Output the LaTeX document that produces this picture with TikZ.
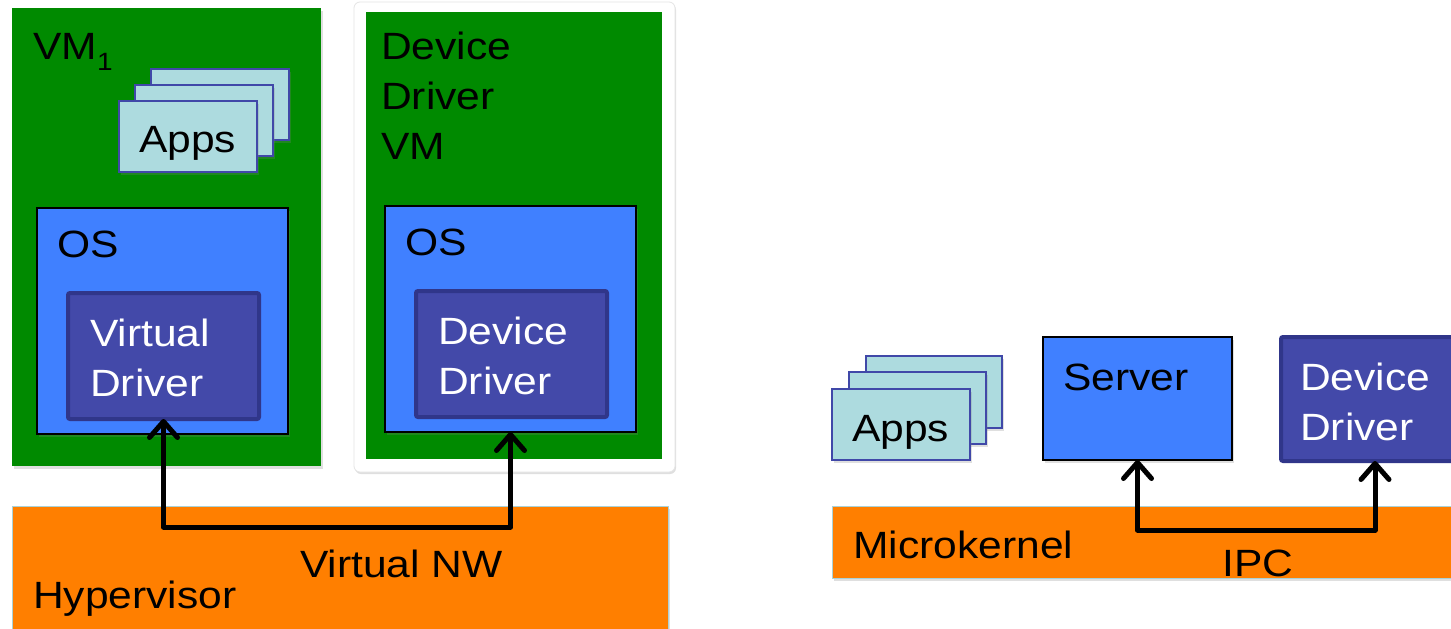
\documentclass[tikz,border=0pt]{standalone}
\usepackage{fontspec}
\setmainfont{Liberation Sans}[FakeStretch=1.12]
\usetikzlibrary{arrows.meta,shadows}

\definecolor{vmgreen}{RGB}{0,138,0}
\definecolor{osblue}{RGB}{64,128,255}
\definecolor{drvblue}{RGB}{67,73,169}
\definecolor{drvedge}{RGB}{48,54,138}
\definecolor{appcyan}{RGB}{173,219,223}
\definecolor{appedge}{RGB}{64,72,168}
\definecolor{layerorange}{RGB}{255,127,0}
\definecolor{layeredge}{RGB}{170,210,215}

\tikzset{
  box/.style={rectangle, anchor=north west, inner sep=0pt, outer sep=0pt},
  shade box/.style={drop shadow={shadow xshift=2pt, shadow yshift=-3pt, opacity=0.25}},
  vmbox/.style={box, fill=vmgreen, shade box},
  frame/.style={box, fill=white, draw=black!10, line width=0.8pt, rounded corners=6pt,
    drop shadow={shadow xshift=1pt, shadow yshift=-2pt, opacity=0.25}},
  osbox/.style={box, fill=osblue, draw=black, line width=1.5pt, shade box},
  drvbox/.style={box, fill=drvblue, draw=drvedge, line width=4pt, rounded corners=2pt},
  appcard/.style={box, fill=appcyan, draw=appedge, line width=2pt, shade box,
    minimum width=138pt, minimum height=71pt},
  layer/.style={box, fill=layerorange, draw=layeredge, line width=1pt, shade box},
  % multi-line labels are placed by the baseline of their last line
  lbl/.style={anchor=base west, inner sep=0pt, align=left,
    font=\fontsize{38pt}{50pt}\selectfont},
  conn/.style={line width=5pt, line join=round, line cap=round,
    {Straight Barb[length=16pt,width=28pt,round]}-{Straight Barb[length=16pt,width=28pt,round]}},
}

\begin{document}
\begin{tikzpicture}[x=1pt,y=-1pt]
  \clip (0,0) rectangle (1451,629);
  \fill[white] (0,0) rectangle (1451,629);

  % ---------------- hypervisor side ----------------
  \node[layer, minimum width=656pt, minimum height=130pt] (hv) at (12,506) {};

  \node[vmbox, minimum width=309pt, minimum height=458pt] (vm1) at (12,8) {};
  \node[frame, minimum width=321pt, minimum height=470pt] (ddframe) at (354,2) {};
  \node[box, fill=vmgreen, minimum width=296pt, minimum height=447pt] (ddvm) at (366,12) {};

  \node[appcard] (appA3) at (151,69) {};
  \node[appcard] (appA2) at (135,85) {};
  \node[appcard] (appA1) at (119,101) {};

  \node[osbox, minimum width=251pt, minimum height=226pt] (osl) at (37,208) {};
  \node[drvbox, minimum width=191pt, minimum height=126pt] (vd) at (68,293) {};
  \node[osbox, minimum width=251pt, minimum height=226pt] (osr) at (385,206) {};
  \node[drvbox, minimum width=191pt, minimum height=126pt] (dd) at (416,291) {};

  \node[lbl] (vm1lbl) at (33,59) {VM\raisebox{-11pt}{\fontsize{25pt}{25pt}\selectfont 1}};
  \node[lbl] (ddvmlbl) at (381,159) {Device\\Driver\\VM};
  \node[lbl] (appAlbl) at (139,152) {Apps};
  \node[lbl] (osllbl) at (57,257) {OS};
  \node[lbl] (osrlbl) at (405,255) {OS};
  \node[lbl, text=white] (vdlbl) at (90,396) {Virtual\\Driver};
  \node[lbl, text=white] (ddlbl) at (438,394) {Device\\Driver};
  \node[lbl] (hvlbl) at (33,608) {Hypervisor};
  \node[lbl] (vnwlbl) at (300,577) {Virtual NW};

  \coordinate (vnw) at (300,527);
  \draw[conn] (vd.south) |- (vnw) -| (osr.south);

  % ---------------- microkernel side ----------------
  \node[layer, minimum width=640pt, minimum height=72pt] (mk) at (832,506) {};

  \node[appcard, minimum width=136pt, minimum height=72pt] (appB3) at (866,356) {};
  \node[appcard, minimum width=137pt, minimum height=72pt] (appB2) at (849,372) {};
  \node[appcard] (appB1) at (832,389) {};

  \node[osbox, minimum width=189pt, minimum height=123pt] (srv) at (1043,337) {};
  \node[drvbox, minimum width=188pt, minimum height=124pt] (mdd) at (1281,337) {};

  \node[lbl] (appBlbl) at (852,441) {Apps};
  \node[lbl] (srvlbl) at (1063,390) {Server};
  \node[lbl, text=white] (mddlbl) at (1300,440) {Device\\Driver};
  \node[lbl] (mklbl) at (853,558) {Microkernel};
  \node[lbl] (ipclbl) at (1222,576) {IPC};

  \coordinate (ipc) at (1250,530);
  \draw[conn] (srv.south) |- (ipc) -| (mdd.south);
\end{tikzpicture}
\end{document}
